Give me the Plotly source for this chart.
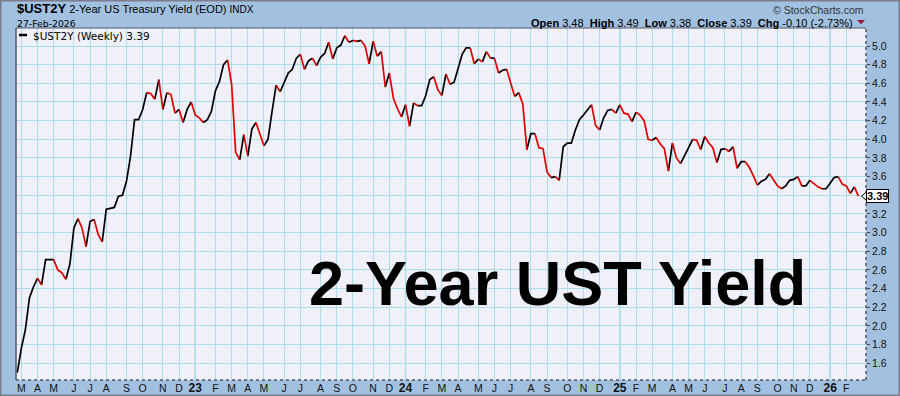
import pandas as pd
import plotly.graph_objects as go

# ---------------- data ----------------
start_week = "2022-03-04"          # first weekly bar (Friday close)
yields = [1.50, 1.76, 1.96, 2.30, 2.42, 2.51, 2.44, 2.71, 2.71, 2.71,
          2.60, 2.57, 2.50, 2.66, 3.05, 3.15, 3.05, 2.85, 3.12, 3.14,
          2.98, 2.90, 3.25, 3.26, 3.27, 3.39, 3.40, 3.55, 3.82, 4.21,
          4.21, 4.32, 4.50, 4.49, 4.43, 4.64, 4.32, 4.50, 4.48, 4.28,
          4.32, 4.18, 4.32, 4.40, 4.26, 4.23, 4.18, 4.21, 4.30, 4.52,
          4.62, 4.80, 4.85, 4.59, 3.86, 3.78, 4.05, 3.82, 4.11, 4.18,
          4.05, 3.93, 4.00, 4.30, 4.58, 4.51, 4.61, 4.71, 4.75, 4.87,
          4.91, 4.75, 4.84, 4.87, 4.79, 4.88, 4.92, 5.04, 4.86, 4.98,
          5.01, 5.11, 5.04, 5.06, 5.05, 5.06, 5.00, 4.81, 5.05, 4.89,
          4.94, 4.56, 4.71, 4.44, 4.33, 4.24, 4.37, 4.14, 4.39, 4.36,
          4.36, 4.47, 4.64, 4.67, 4.53, 4.47, 4.70, 4.59, 4.61, 4.76,
          4.91, 4.98, 4.98, 4.81, 4.86, 4.83, 4.94, 4.87, 4.87, 4.71,
          4.74, 4.75, 4.60, 4.46, 4.50, 4.38, 3.89, 4.06, 4.06, 3.91,
          3.90, 3.65, 3.59, 3.60, 3.56, 3.92, 3.96, 3.96, 4.10, 4.21,
          4.26, 4.32, 4.37, 4.15, 4.10, 4.23, 4.31, 4.32, 4.28, 4.37,
          4.28, 4.27, 4.19, 4.29, 4.26, 4.20, 4.00, 3.99, 4.02, 3.95,
          3.90, 3.66, 3.96, 3.80, 3.74, 3.82, 3.91, 4.00, 3.99, 3.89,
          4.03, 3.96, 3.91, 3.75, 3.89, 3.90, 3.87, 3.92, 3.69, 3.76,
          3.76, 3.70, 3.61, 3.51, 3.55, 3.57, 3.63, 3.56, 3.50, 3.47,
          3.50, 3.56, 3.57, 3.60, 3.50, 3.50, 3.56, 3.52, 3.49, 3.47,
          3.47, 3.53, 3.59, 3.60, 3.52, 3.50, 3.42, 3.49, 3.39]

month_letters = ["J", "F", "M", "A", "M", "J", "J", "A", "S", "O", "N", "D"]
y_ticks = [1.6, 1.8, 2.0, 2.2, 2.4, 2.6, 2.8, 3.0, 3.2, 3.4, 3.6, 3.8,
           4.0, 4.2, 4.4, 4.6, 4.8, 5.0]

symbol = "$UST2Y"
description = "2-Year US Treasury Yield (EOD)"
exchange = "INDX"
last_date = "27-Feb-2026"
ohlc_labels = ["Open", "High", "Low", "Close", "Chg"]
ohlc_values = ["3.48", "3.49", "3.38", "3.39", "-0.10 (-2.73%)"]
big_title = "2-Year UST Yield"

# ---------------- derived ----------------
weeks = pd.date_range(start_week, periods=len(yields), freq="7D")
mondays = weeks - pd.Timedelta(days=4)

tickvals, ticktext, year_lines = [], [], []
for k in range(1, len(weeks)):
    if mondays[k].month != mondays[k - 1].month:
        tickvals.append(weeks[k])
        if mondays[k].month == 1:
            ticktext.append(f"<b><span style='font-size:12px'>{mondays[k].year % 100:02d}</span></b>")
            year_lines.append(weeks[k])
        else:
            ticktext.append(month_letters[mondays[k].month - 1])

# colour-coded line: black rising, red falling
up_x, up_y, dn_x, dn_y = [], [], [], []
k = 1
n = len(yields)
while k < n:
    rising = yields[k] >= yields[k - 1]
    j = k
    while j + 1 < n and (yields[j + 1] >= yields[j]) == rising:
        j += 1
    xs = list(weeks[k - 1:j + 1]) + [None]
    ys = yields[k - 1:j + 1] + [None]
    if rising:
        up_x += xs; up_y += ys
    else:
        dn_x += xs; dn_y += ys
    k = j + 1

last = yields[-1]
# the last-value box hides the neighbouring axis label
y_ticktext = ["" if abs(v - last) < 0.1 else f"{v:.1f}" for v in y_ticks]

# ---------------- layout helpers (pixel -> paper) ----------------
W, H = 900, 396
L, R, T, B = 16, 866, 28, 380
def px(x):
    return (x - L) / (R - L)
def py(y):
    return (B - y) / (B - T)

BG = "#A2C1E0"
PLOT_BG = "#EFF0F8"
GRID = "#ADDDEB"
YEAR_GRID = "#84C8E6"
FRAME = "#55556A"
ARIAL = "Arial, Liberation Sans, sans-serif"
VERD = "DejaVu Sans, Verdana, sans-serif"

fig = go.Figure()
fig.add_trace(go.Scatter(x=up_x, y=up_y, mode="lines",
                         line=dict(color="#000000", width=1.7), hoverinfo="skip",
                         showlegend=False, connectgaps=False))
fig.add_trace(go.Scatter(x=dn_x, y=dn_y, mode="lines",
                         line=dict(color="#E00000", width=1.7), hoverinfo="skip",
                         showlegend=False, connectgaps=False))

shapes = []
for d in year_lines:
    shapes.append(dict(type="line", xref="x", yref="paper", x0=d, x1=d, y0=0, y1=1,
                       line=dict(color=YEAR_GRID, width=1.2), layer="below"))
# plot frame
shapes.append(dict(type="line", xref="paper", yref="paper", x0=0, x1=0, y0=0, y1=1,
                   line=dict(color=FRAME, width=1.5)))
shapes.append(dict(type="line", xref="paper", yref="paper", x0=0, x1=1, y0=1, y1=1,
                   line=dict(color=FRAME, width=1)))
shapes.append(dict(type="line", xref="paper", yref="paper", x0=0, x1=1, y0=0, y1=0,
                   line=dict(color=FRAME, width=1.5, dash="dot")))
shapes.append(dict(type="line", xref="paper", yref="paper", x0=1, x1=1, y0=0, y1=1,
                   line=dict(color=FRAME, width=1.5, dash="dot")))
# outer frame
shapes.append(dict(type="rect", xref="paper", yref="paper",
                   x0=px(0.75), x1=px(W - 0.75), y0=py(H - 0.75), y1=py(0.75),
                   line=dict(color="#7C7C8C", width=1.5)))
# legend dash
shapes.append(dict(type="line", xref="paper", yref="paper",
                   x0=px(19), x1=px(27), y0=py(35), y1=py(35),
                   line=dict(color="#000000", width=2.5)))
# down triangle next to change
shapes.append(dict(type="path", xref="paper", yref="paper",
                   path=f"M {px(857)},{py(20)} L {px(865)},{py(20)} L {px(861)},{py(24.5)} Z",
                   fillcolor="#9E1B3C", line=dict(width=0)))
# last value pointer
dy = 0.05
shapes.append(dict(type="path", xref="paper", yref="y",
                   path=f"M {px(861.5)},{last} L {px(867)},{last + dy} L {px(867)},{last - dy} Z",
                   fillcolor="#FFFFFF", line=dict(color="#000000", width=1)))

annotations = []
annotations.append(dict(xref="paper", yref="paper", x=px(15), y=py(18), xanchor="left",
                        yanchor="bottom", showarrow=False,
                        text=f"<b><span style='font-size:13px'>{symbol}</span></b> {description} "
                             f"<span style='font-size:10px'>{exchange}</span>",
                        font=dict(family=ARIAL, size=11, color="#000000")))
annotations.append(dict(xref="paper", yref="paper", x=px(15), y=py(31), xanchor="left",
                        yanchor="bottom", showarrow=False, text=last_date,
                        font=dict(family=VERD, size=9.3, color="#000000")))
annotations.append(dict(xref="paper", yref="paper", x=px(866), y=py(18), xanchor="right",
                        yanchor="bottom", showarrow=False, text="© StockCharts.com",
                        font=dict(family=ARIAL, size=10.5, color="#333333")))
ohlc_text = "\u00a0\u00a0".join(f"<b>{a}</b> {b}" for a, b in zip(ohlc_labels, ohlc_values))
annotations.append(dict(xref="paper", yref="paper", x=px(855), y=py(31.5), xanchor="right",
                        yanchor="bottom", showarrow=False, text=ohlc_text,
                        font=dict(family=ARIAL, size=11, color="#000000")))
annotations.append(dict(xref="paper", yref="paper", x=px(31), y=py(35.5), xanchor="left",
                        yanchor="middle", showarrow=False,
                        text=f"{symbol} (Weekly) {last:.2f}",
                        font=dict(family=VERD, size=10.5, color="#000000")))
annotations.append(dict(xref="paper", yref="paper", x=px(557), y=py(283), xanchor="center",
                        yanchor="middle", showarrow=False, text=f"<b>{big_title}</b>",
                        font=dict(family=ARIAL, size=63, color="#000000")))
annotations.append(dict(xref="paper", yref="y", x=px(866.5), y=last, xanchor="left",
                        yanchor="middle", showarrow=False, text=f"<b>{last:.2f}</b>",
                        bgcolor="#FFFFFF", bordercolor="#000000", borderwidth=1, borderpad=0,
                        font=dict(family=ARIAL, size=11, color="#000000")))

fig.update_layout(
    width=W, height=H,
    margin=dict(l=L, r=W - R, t=T, b=H - B, pad=0, autoexpand=False),
    paper_bgcolor=BG, plot_bgcolor=PLOT_BG,
    shapes=shapes, annotations=annotations,
    showlegend=False,
    xaxis=dict(type="date", range=["2022-03-01 18:00", "2026-03-12 02:00"],
               tickmode="array", tickvals=tickvals, ticktext=ticktext,
               showgrid=True, gridcolor=GRID, gridwidth=1,
               ticks="", showline=False, zeroline=False, automargin=False,
               tickfont=dict(family=ARIAL, size=10.5, color="#111111"),
               tickangle=0, fixedrange=True),
    yaxis=dict(side="right", range=[1.42, 5.193], tickmode="array",
               tickvals=y_ticks, ticktext=y_ticktext,
               showgrid=True, gridcolor=GRID, gridwidth=1,
               ticks="outside", ticklen=3, tickcolor="#444444", tickwidth=1,
               showline=False, zeroline=False, automargin=False,
               tickfont=dict(family=ARIAL, size=10.5, color="#111111"),
               fixedrange=True),
)

fig.write_html("out.html", config={"displayModeBar": False})
